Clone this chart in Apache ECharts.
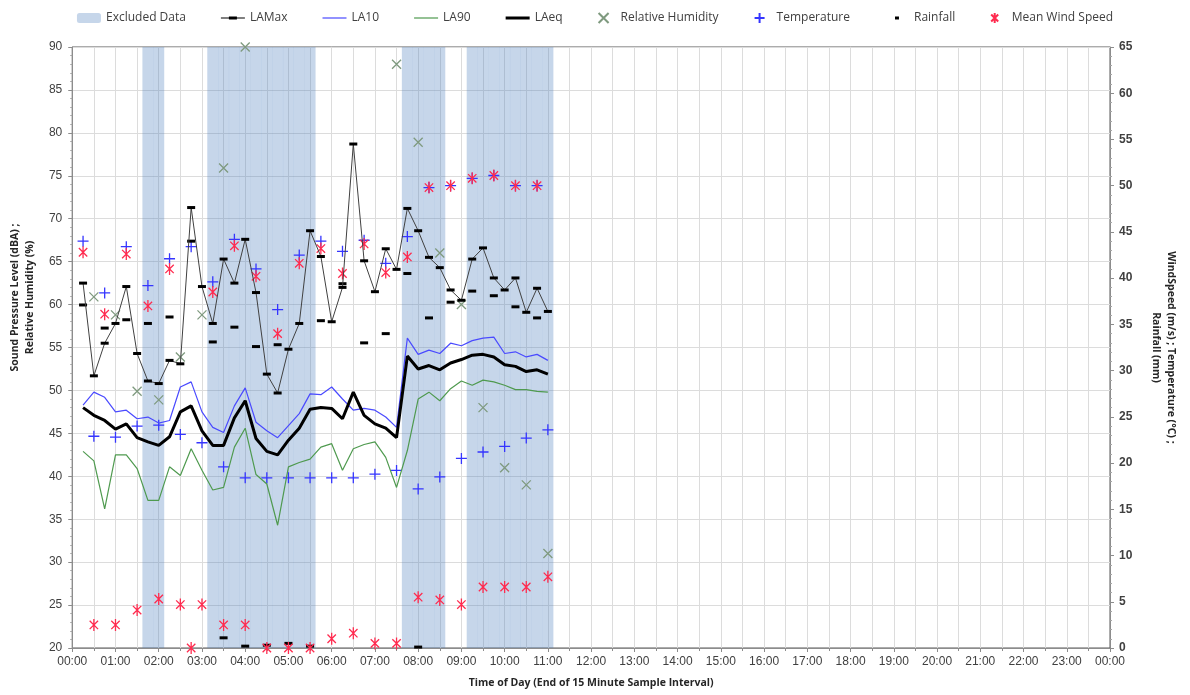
<!DOCTYPE html>
<html>
<head>
<meta charset="utf-8">
<title>Noise and weather monitoring</title>
<script src="https://cdn.jsdelivr.net/npm/echarts@6.0.0/dist/echarts.min.js"></script>
<style>
html, body { margin: 0; padding: 0; background: #fff; }
#chart { width: 1190px; height: 695px; }
</style>
</head>
<body>
<div id="chart"></div>
<script>
// end of each 15 minute sample interval
var times = ['00:15','00:30','00:45','01:00','01:15','01:30','01:45','02:00','02:15','02:30','02:45',
	'03:00','03:15','03:30','03:45','04:00','04:15','04:30','04:45','05:00','05:15','05:30','05:45',
	'06:00','06:15','06:30','06:45','07:00','07:15','07:30','07:45','08:00','08:15','08:30','08:45',
	'09:00','09:15','09:30','09:45','10:00','10:15','10:30','10:45','11:00'];

// 1 = excluded interval
var excluded = [0,0,0,0,0,0,1,1,0,0, 0,0,1,1,1,1,1,1,1,1, 1,1,0,0,0,0,0,0,0,0, 1,1,1,1,0,0,1,1,1,1, 1,1,1,1];

// sound levels (dBA)
var laMax = [62.5,51.7,55.5,57.8,62.1,54.3,51.1,50.8,53.5,53.1,71.3,62.1,57.8,65.3,62.5,67.6,61.4,51.9,49.7,54.8,
	57.8,68.6,65.6,58.0,62.0,78.7,65.1,61.5,66.5,64.1,71.2,68.6,65.5,64.3,61.7,60.5,65.3,66.6,63.1,61.7,
	63.1,59.1,61.9,59.2];
var la10 = [48.3,49.8,49.2,47.5,47.7,46.7,46.9,46.2,46.5,50.4,51.0,47.5,45.7,45.1,48.2,50.3,46.3,45.3,44.5,45.9,
	47.3,49.6,49.5,50.4,49.0,47.7,47.9,47.7,46.9,45.7,56.1,54.2,54.7,54.3,55.5,55.2,55.8,56.1,56.2,54.3,
	54.5,53.9,54.2,53.5];
var la90 = [42.9,41.8,36.2,42.5,42.5,40.9,37.2,37.2,41.1,40.1,43.2,40.7,38.4,38.7,43.4,45.6,40.2,39.1,34.3,41.1,
	41.6,42.0,43.4,43.8,40.7,43.2,43.7,44.0,42.2,38.7,43.0,49.0,49.8,48.8,50.2,51.1,50.6,51.2,51.0,50.6,
	50.1,50.1,49.9,49.8];
var laEq = [48.0,47.1,46.5,45.5,46.1,44.5,44.0,43.6,44.6,47.5,48.2,45.3,43.6,43.6,46.8,48.8,44.4,42.9,42.5,44.2,
	45.6,47.8,48.0,47.9,46.7,49.8,47.1,46.1,45.6,44.5,54.0,52.5,52.9,52.4,53.2,53.6,54.1,54.2,53.9,53.0,
	52.8,52.2,52.4,51.9];

// weather
var humidity = [null,60.9,null,58.8,null,49.9,null,48.9,null,53.9,null,58.8,null,75.9,null,90,null,null,null,null,
	null,null,null,null,null,null,null,null,null,88,null,78.9,null,66,null,60,null,48,null,41,
	null,39,null,31];
var temperature = [44.0,22.9,38.4,22.8,43.4,24.0,39.2,24.1,42.1,23.1,43.4,22.2,39.6,19.6,44.2,18.4,41.0,18.4,36.6,18.4,
	42.5,18.4,44.0,18.4,42.9,18.4,44.1,18.8,41.6,19.2,44.5,17.2,49.8,18.5,50.0,20.5,50.8,21.2,51.1,21.8,
	50.0,22.7,50.0,23.6];
var rainfall = [37.1,null,34.6,null,35.5,null,35.1,null,35.8,null,44.0,null,33.1,1.1,34.7,0.2,32.6,0.3,32.8,0.5,
	null,0.2,35.4,null,39.4,null,33.0,null,34.0,null,40.5,0.1,35.7,null,37.4,null,38.6,null,38.1,null,
	36.9,null,35.7,null];
var windSpeed = [42.8,2.5,36.1,2.5,42.6,4.1,37.0,5.3,41.0,4.7,0.0,4.7,38.5,2.5,43.5,2.5,40.2,0.0,34.0,0.0,
	41.6,0.0,43.2,1.0,40.5,1.6,43.7,0.5,40.6,0.5,42.3,5.5,49.8,5.2,50.0,4.7,50.8,6.6,51.1,6.6,
	50.0,6.6,50.0,7.7];

function toHours(s) {
	var p = s.split(':');
	return Number(p[0]) + Number(p[1]) / 60;
}

// pair each value with its time, skipping gaps
function pairs(values) {
	var out = [];
	for (var i = 0; i < times.length; i++) {
		if (values[i] !== null) out.push([toHours(times[i]), values[i]]);
	}
	return out;
}

var excludedBars = pairs(excluded.map(function (f) { return f ? 90 : null; }));

var plusPath = 'path://M5,0L5,10M0,5L10,5';
var crossPath = 'path://M0,0L10,10M10,0L0,10';
var starPath = 'path://M1.5,1.5L8.5,8.5M8.5,1.5L1.5,8.5M5,0L5,10';

// legend icons (24x10 box)
var box = 'path://M0,0L0,0M24,10L24,10';
var rainIcon = box + 'M10,3.5L14,3.5L14,6.5L10,6.5Z';
var thinLineIcon = box + 'M0,4.4L24,4.4L24,5.6L0,5.6Z';
var thickLineIcon = box + 'M0,3.5L24,3.5L24,6.5L0,6.5Z';
var maxIcon = box + 'M0,4.5L24,4.5L24,5.5L0,5.5ZM8,3.5L16,3.5L16,6.5L8,6.5Z';

var labelFont = 'Liberation Sans';
var textFont = 'Open Sans';

var chart = echarts.init(document.getElementById('chart'));

var option = {
	animation: false,
	legend: {
		top: 7,
		left: 'center',
		itemGap: 35,
		itemWidth: 24,
		itemHeight: 10,
		textStyle: { fontFamily: textFont, fontSize: 12, color: '#404040' },
		data: [
			'Excluded Data',
			{ name: 'LAMax', icon: maxIcon },
			{ name: 'LA10', icon: thinLineIcon },
			{ name: 'LA90', icon: thinLineIcon },
			{ name: 'LAeq', icon: thickLineIcon },
			'Relative Humidity', 'Temperature',
			{ name: 'Rainfall', icon: rainIcon },
			'Mean Wind Speed'
		]
	},
	grid: {
		left: 70,
		right: 80,
		top: 47,
		bottom: 47,
		show: true,
		borderColor: '#595959',
		borderWidth: 1
	},
	xAxis: {
		type: 'value',
		min: 0,
		max: 24,
		interval: 1,
		name: 'Time of Day (End of 15 Minute Sample Interval)',
		nameLocation: 'middle',
		nameGap: 30,
		nameTextStyle: { fontFamily: textFont, fontSize: 10.5, fontWeight: 'bold', color: '#262626' },
		axisLine: { lineStyle: { color: '#8c8c8c' } },
		axisTick: { length: 4, lineStyle: { color: '#8c8c8c' } },
		minorTick: { show: true, splitNumber: 2, length: 3, lineStyle: { color: '#8c8c8c' } },
		splitLine: { show: true, lineStyle: { color: '#dcdcdc' } },
		minorSplitLine: { show: true, lineStyle: { color: '#dcdcdc' } },
		axisLabel: {
			margin: 8,
			fontFamily: labelFont,
			fontSize: 12,
			color: '#404040',
			formatter: function (v) {
				var h = v % 24;
				return (h < 10 ? '0' : '') + h + ':00';
			}
		}
	},
	yAxis: [
		{
			type: 'value',
			min: 20,
			max: 90,
			interval: 5,
			name: 'Sound Pressure Level (dBA) ;\nRelative Humidity (%)',
			nameLocation: 'middle',
			nameRotate: 90,
			nameGap: 30,
			nameTextStyle: {
				fontFamily: textFont, fontSize: 10.5, fontWeight: 'bold', color: '#262626',
				lineHeight: 15, padding: [0, 0, 0, 100]
			},
			axisLine: { show: true, lineStyle: { color: '#8c8c8c' } },
			axisTick: { show: true, length: 4, lineStyle: { color: '#8c8c8c' } },
			minorTick: { show: true, splitNumber: 5, length: 2, lineStyle: { color: '#a6a6a6' } },
			splitLine: { show: true, lineStyle: { color: '#dcdcdc' } },
			axisLabel: { margin: 10, fontFamily: labelFont, fontSize: 12, color: '#404040' }
		},
		{
			type: 'value',
			min: 0,
			max: 65,
			interval: 5,
			name: 'WindSpeed (m/s) ; Temperature (°C) ;\nRainfall (mm)',
			nameLocation: 'middle',
			nameRotate: -90,
			nameGap: 38,
			nameTextStyle: {
				fontFamily: textFont, fontSize: 10.5, fontWeight: 'bold', color: '#262626',
				lineHeight: 15
			},
			axisLine: { show: true, lineStyle: { color: '#8c8c8c' } },
			axisTick: { show: true, length: 4, lineStyle: { color: '#8c8c8c' } },
			minorTick: { show: true, splitNumber: 5, length: 2, lineStyle: { color: '#a6a6a6' } },
			splitLine: { show: false },
			axisLabel: { margin: 9, fontFamily: labelFont, fontSize: 12, fontWeight: 'bold', color: '#404040' }
		}
	],
	series: [
		{
			name: 'Excluded Data',
			type: 'bar',
			yAxisIndex: 0,
			barWidth: 11,
			z: 1,
			itemStyle: { color: 'rgba(79,129,189,0.32)' },
			data: excludedBars
		},
		{
			name: 'LA90',
			type: 'line',
			yAxisIndex: 0,
			symbol: 'none',
			lineStyle: { color: '#4f9a4f', width: 1.2 },
			itemStyle: { color: '#4f9a4f' },
			data: pairs(la90)
		},
		{
			name: 'LA10',
			type: 'line',
			yAxisIndex: 0,
			symbol: 'none',
			lineStyle: { color: '#4a4aff', width: 1.2 },
			itemStyle: { color: '#4a4aff' },
			data: pairs(la10)
		},
		{
			name: 'LAeq',
			type: 'line',
			yAxisIndex: 0,
			symbol: 'none',
			lineStyle: { color: '#000', width: 3 },
			itemStyle: { color: '#000' },
			data: pairs(laEq)
		},
		{
			name: 'LAMax',
			type: 'line',
			yAxisIndex: 0,
			symbol: 'rect',
			symbolSize: [8, 3],
			showAllSymbol: true,
			lineStyle: { color: '#404040', width: 1 },
			itemStyle: { color: '#000' },
			data: pairs(laMax)
		},
		{
			name: 'Relative Humidity',
			type: 'scatter',
			yAxisIndex: 0,
			symbol: crossPath,
			symbolSize: 9,
			symbolKeepAspect: true,
			itemStyle: { color: 'transparent', borderColor: '#7f9a7f', borderWidth: 1.3, opacity: 1 },
			data: pairs(humidity)
		},
		{
			name: 'Temperature',
			type: 'scatter',
			yAxisIndex: 1,
			symbol: plusPath,
			symbolSize: 11,
			symbolKeepAspect: true,
			itemStyle: { color: 'transparent', borderColor: '#3535ff', borderWidth: 1.3, opacity: 1 },
			data: pairs(temperature)
		},
		{
			name: 'Rainfall',
			type: 'scatter',
			yAxisIndex: 1,
			symbol: 'rect',
			symbolSize: [8, 3],
			itemStyle: { color: '#000', opacity: 1 },
			data: pairs(rainfall)
		},
		{
			name: 'Mean Wind Speed',
			type: 'scatter',
			yAxisIndex: 1,
			symbol: starPath,
			symbolSize: 12,
			symbolKeepAspect: true,
			itemStyle: { color: 'transparent', borderColor: '#ff2b4f', borderWidth: 1.3, opacity: 1 },
			data: pairs(windSpeed)
		}
	]
};

chart.setOption(option);
</script>
</body>
</html>
